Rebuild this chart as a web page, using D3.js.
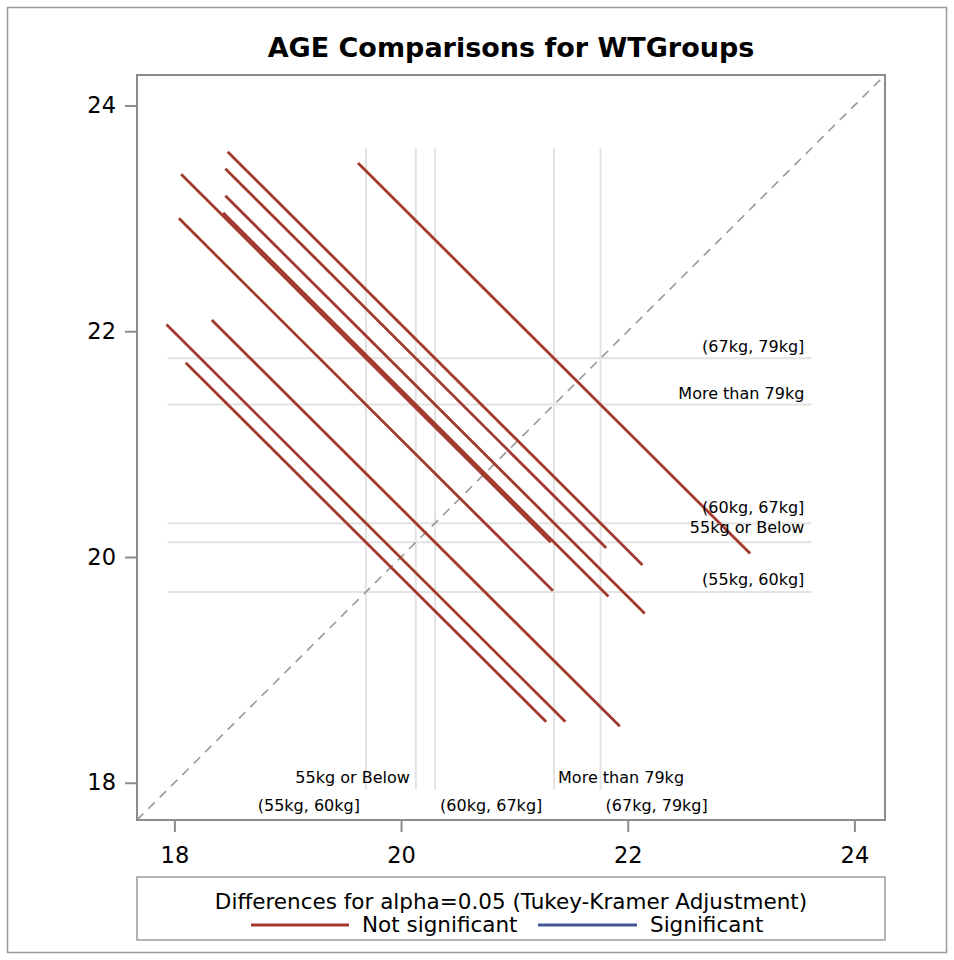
<!DOCTYPE html>
<html><head><meta charset="utf-8">
<script src="https://cdn.jsdelivr.net/npm/d3@7"></script>
<style>body{margin:0;background:#fff} svg{display:block} text{font-family:"DejaVu Sans",sans-serif;fill:#000}</style>
</head><body><svg id="chart" width="954" height="960"></svg>
<script>
// ---- data ----
const groups = ["55kg or Below", "(55kg, 60kg]", "(60kg, 67kg]", "(67kg, 79kg]", "More than 79kg"];
const lsmeans = [20.13, 19.69, 20.30, 21.76, 21.35];
const pairFirst  = [0, 0, 0, 0, 1, 1, 1, 2, 2, 3];
const pairSecond = [1, 2, 3, 4, 2, 3, 4, 3, 4, 4];
const ciHalfWidth = [3.18, 3.60, 3.36, 3.40, 3.52, 3.26, 3.30, 3.66, 3.70, 3.46];
const significant = [false, false, false, false, false, false, false, false, false, false];
const tickValues = [18, 20, 22, 24];
const axisDomain = [17.67, 24.27];
const refExtent = [17.94, 23.62];
const titleText = "AGE Comparisons for WTGroups";
const legendTitle = "Differences for alpha=0.05 (Tukey-Kramer Adjustment)";
const legendLabels = ["Not significant", "Significant"];

// ---- layout ----
const svg = d3.select("#chart");
const W = 954, H = 960;
const plot = {left: 137, right: 885, top: 75, bottom: 820};
const RED = "#A23A2E", BLUE = "#445694", AXIS = "#8c8c8c", REF = "#e3e3e3";

svg.append("rect").attr("x", 7.5).attr("y", 7.5).attr("width", W - 15).attr("height", H - 15)
  .attr("fill", "none").attr("stroke", "#9a9a9a").attr("stroke-width", 1.5);

const x = d3.scaleLinear().domain(axisDomain).range([plot.left, plot.right]);
const y = d3.scaleLinear().domain(axisDomain).range([plot.bottom, plot.top]);

svg.append("defs").append("clipPath").attr("id", "clip").append("rect")
  .attr("x", plot.left).attr("y", plot.top).attr("width", plot.right - plot.left).attr("height", plot.bottom - plot.top);

const g = svg.append("g").attr("clip-path", "url(#clip)");

// reference lines
g.selectAll("line.v").data(lsmeans).join("line").attr("class", "v")
  .attr("x1", d => x(d)).attr("x2", d => x(d))
  .attr("y1", y(refExtent[1])).attr("y2", y(refExtent[0]))
  .attr("stroke", REF).attr("stroke-width", 2);
g.selectAll("line.h").data(lsmeans).join("line").attr("class", "h")
  .attr("y1", d => y(d)).attr("y2", d => y(d))
  .attr("x1", x(refExtent[0])).attr("x2", x(refExtent[1]))
  .attr("stroke", REF).attr("stroke-width", 2);

// diagonal
g.append("line")
  .attr("x1", x(axisDomain[0])).attr("y1", y(axisDomain[0]))
  .attr("x2", x(axisDomain[1])).attr("y2", y(axisDomain[1]))
  .attr("stroke", "#999").attr("stroke-width", 1.6).attr("stroke-dasharray", "9,7");

const LBL = 16;
// labels for horizontal ref lines (right side)
const hOffset = [-9, -7, -10, -6, -6];
svg.selectAll("text.hl").data(groups).join("text").attr("class", "hl")
  .attr("x", x(refExtent[1]) - 7).attr("y", (d, i) => y(lsmeans[i]) + hOffset[i])
  .attr("text-anchor", "end").attr("font-size", LBL).text(d => d);

// labels for vertical ref lines (bottom, two staggered rows)
const vPlace = [ {row: 0, anchor: "end", dx: -6}, {row: 1, anchor: "end", dx: -6},
  {row: 1, anchor: "start", dx: 5}, {row: 1, anchor: "start", dx: 5}, {row: 0, anchor: "start", dx: 4} ];
const rowY = [783, 811];
svg.selectAll("text.vl").data(groups).join("text").attr("class", "vl")
  .attr("x", (d, i) => x(lsmeans[i]) + vPlace[i].dx).attr("y", (d, i) => rowY[vPlace[i].row])
  .attr("text-anchor", (d, i) => vPlace[i].anchor).attr("font-size", LBL).text(d => d);

// segments
const segs = pairFirst.map((a, k) => {
  const b = pairSecond[k];
  const xm = Math.min(lsmeans[a], lsmeans[b]), ym = Math.max(lsmeans[a], lsmeans[b]);
  const h = ciHalfWidth[k] / 2;
  return {x1: xm - h, y1: ym + h, x2: xm + h, y2: ym - h, sig: significant[k]};
});
g.selectAll("line.seg").data(segs).join("line").attr("class", "seg")
  .attr("x1", d => x(d.x1)).attr("y1", d => y(d.y1))
  .attr("x2", d => x(d.x2)).attr("y2", d => y(d.y2))
  .attr("stroke", d => d.sig ? BLUE : RED).attr("stroke-width", 2.8);

// frame
svg.append("rect").attr("x", plot.left).attr("y", plot.top)
  .attr("width", plot.right - plot.left).attr("height", plot.bottom - plot.top)
  .attr("fill", "none").attr("stroke", AXIS).attr("stroke-width", 2);

// axes
const ax = svg.append("g").attr("transform", `translate(0,${plot.bottom})`)
  .call(d3.axisBottom(x).tickValues(tickValues).tickSize(12).tickPadding(15).tickFormat(d3.format("d")));
const ay = svg.append("g").attr("transform", `translate(${plot.left},0)`)
  .call(d3.axisLeft(y).tickValues(tickValues).tickSize(12).tickPadding(9).tickFormat(d3.format("d")));
[ax, ay].forEach(a => {
  a.select(".domain").remove();
  a.selectAll(".tick line").attr("stroke", AXIS).attr("stroke-width", 2);
  a.selectAll(".tick text").attr("font-size", 22.5).attr("font-family", "DejaVu Sans").attr("fill", "#000");
});

// title
svg.append("text").attr("x", (plot.left + plot.right) / 2).attr("y", 57)
  .attr("text-anchor", "middle").attr("font-size", 27).attr("font-weight", "bold").text(titleText);

// legend (spans the plot width)
const lg = svg.append("g");
const lgTop = 877, lgBottom = 940;
lg.append("rect").attr("x", plot.left).attr("y", lgTop).attr("width", plot.right - plot.left).attr("height", lgBottom - lgTop)
  .attr("fill", "none").attr("stroke", "#9a9a9a").attr("stroke-width", 1.5);
lg.append("text").attr("x", (plot.left + plot.right) / 2).attr("y", 909).attr("text-anchor", "middle")
  .attr("font-size", 21.5).text(legendTitle);
const items = [{c: RED, x0: 251, x1: 349, tx: 362}, {c: BLUE, x0: 538, x1: 637, tx: 650}];
items.forEach((it, i) => {
  lg.append("line").attr("x1", it.x0).attr("x2", it.x1).attr("y1", 925).attr("y2", 925)
    .attr("stroke", it.c).attr("stroke-width", 3);
  lg.append("text").attr("x", it.tx).attr("y", 932).attr("font-size", 21.5).text(legendLabels[i]);
});
</script></body></html>
